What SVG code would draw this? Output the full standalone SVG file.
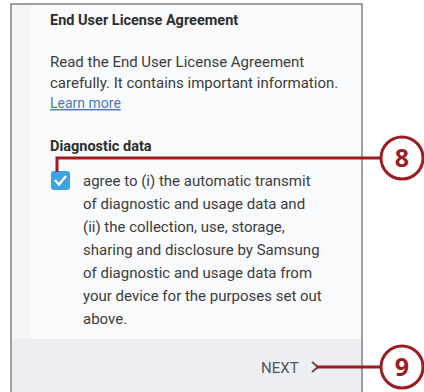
<svg xmlns="http://www.w3.org/2000/svg" width="424" height="392" viewBox="0 0 424 392">
<style>
.t{font-family:Roboto,"Liberation Sans",sans-serif;font-size:15px;fill:#3c3c3c}
.b{font-weight:bold;fill:#2e2e2e;font-size:14.5px}
.lead{stroke:#9c1c24;stroke-width:3;fill:none}
.circ{fill:#fff;stroke:#9c1c24;stroke-width:3}
.num{font-family:"Open Sans","Liberation Sans",sans-serif;font-size:25px;font-weight:bold;fill:#9c1c24;text-anchor:middle}
</style>
<g id="screen">
<rect x="11" y="4" width="351" height="400" fill="#f4f5f7" stroke="#808080" stroke-width="1.5"/>
<rect x="30" y="5" width="331" height="334" fill="#f9fafb"/>
<rect x="12" y="339" width="349" height="60" fill="#eceef1"/>
<text class="t b" x="50" y="25">End User License Agreement</text>
<text class="t" x="50" y="67">Read the End User License Agreement</text>
<text class="t" x="50" y="88">carefully. It contains important information.</text>
<text class="t" x="50" y="108" style="fill:#4a78c0;font-size:14px" text-decoration="underline">Learn more</text>
<text class="t b" x="50" y="151">Diagnostic data</text>
<rect x="51" y="171" width="19" height="19" rx="3" fill="#3da4e3"/>
<path d="M55 180 L59 184.5 L66 176" stroke="#fff" stroke-width="2.2" fill="none"/>
<text class="t" x="83" y="186">agree to (i) the automatic transmit</text>
<text class="t" x="83" y="209">of diagnostic and usage data and</text>
<text class="t" x="83" y="232">(ii) the collection, use, storage,</text>
<text class="t" x="83" y="255">sharing and disclosure by Samsung</text>
<text class="t" x="83" y="278">of diagnostic and usage data from</text>
<text class="t" x="83" y="301">your device for the purposes set out</text>
<text class="t" x="83" y="324">above.</text>
<text class="t" x="261" y="373" style="fill:#555">NEXT</text>
<path d="M312 362 L318 367 L312 372" stroke="#555" stroke-width="2" fill="none"/>
</g>
<g id="connectors">
<path class="lead" d="M381 158 H57 V172"/>
<path class="lead" d="M316 367 H381"/>
</g>
<g id="callout8">
<circle class="circ" cx="402" cy="158" r="21"/>
<text class="num" x="402" y="167">8</text>
</g>
<g id="callout9">
<circle class="circ" cx="402" cy="367" r="21"/>
<text class="num" x="402" y="376">9</text>
</g>
</svg>
